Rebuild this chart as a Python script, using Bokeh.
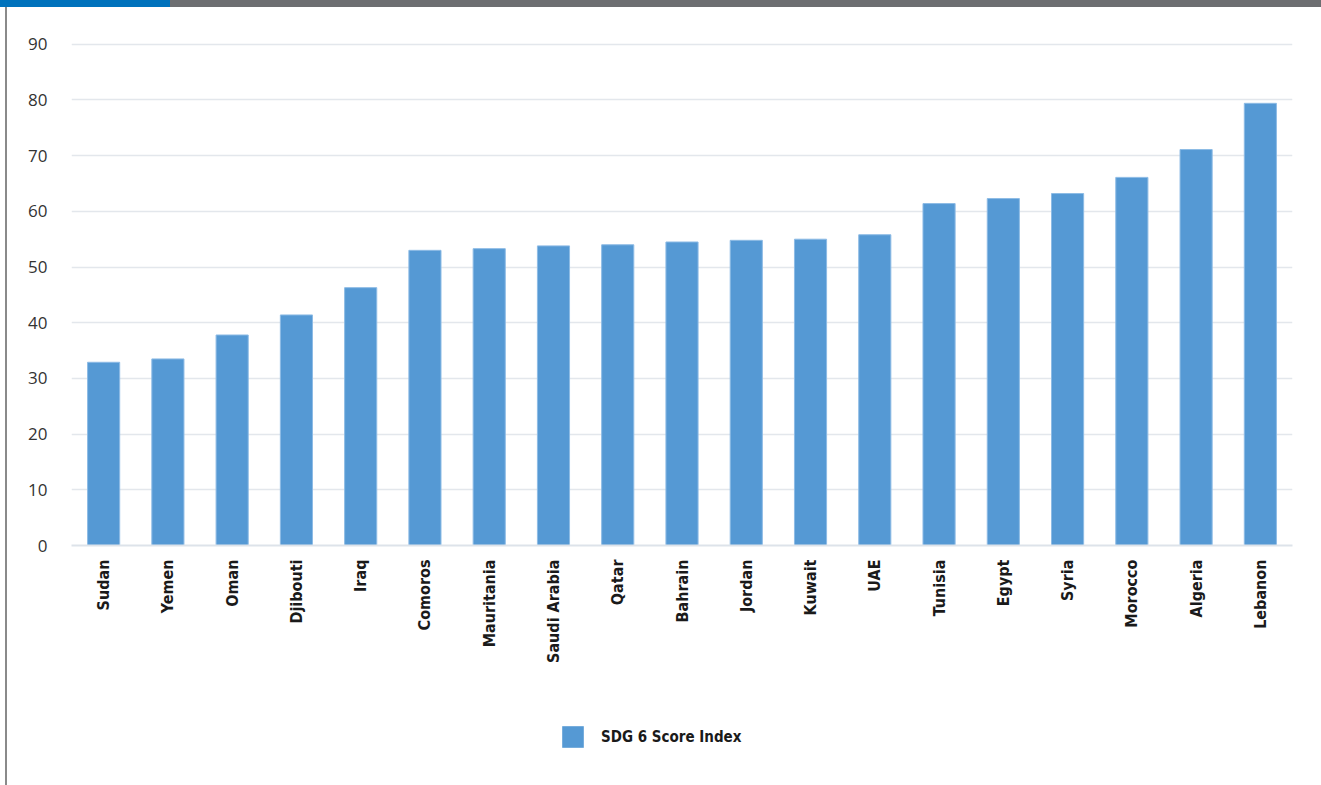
import math
from bokeh.plotting import figure
from bokeh.models import ColumnDataSource, Div, Legend, LegendItem, Range1d, FixedTicker
from bokeh.layouts import column, row
from bokeh.embed import file_html
from bokeh.resources import INLINE

countries = ["Sudan", "Yemen", "Oman", "Djibouti", "Iraq", "Comoros", "Mauritania",
             "Saudi Arabia", "Qatar", "Bahrain", "Jordan", "Kuwait", "UAE", "Tunisia",
             "Egypt", "Syria", "Morocco", "Algeria", "Lebanon"]
scores = [32.9, 33.5, 37.8, 41.4, 46.3, 53.0, 53.3, 53.8, 54.0, 54.5, 54.8, 55.0, 55.8,
          61.4, 62.3, 63.2, 66.1, 71.1, 79.4]
y_ticks = [0, 10, 20, 30, 40, 50, 60, 70, 80, 90]
series_name = "SDG 6 Score Index"

BAR_FILL = "#5599d4"
BAR_LINE = "#8dbbe5"
LABEL_FONT = "DejaVu Sans Condensed"

src = ColumnDataSource(dict(x=countries, top=scores))

W, H = 1321, 785
top_h = 7
left_w = 7
main_h = 673
leg_h = H - top_h - main_h

p = figure(x_range=countries, y_range=Range1d(0, 90.5), width=W - left_w, height=main_h,
           output_backend="svg", toolbar_location=None,
           min_border_left=64, min_border_right=29, min_border_top=34, min_border_bottom=135)
p.outline_line_color = None
p.background_fill_color = "white"
p.border_fill_color = "white"

p.vbar(x="x", top="top", width=0.5, source=src, fill_color=BAR_FILL,
       line_color=BAR_LINE, line_width=1)

p.yaxis.ticker = FixedTicker(ticks=y_ticks)
p.yaxis.axis_line_color = None
p.yaxis.major_tick_line_color = None
p.yaxis.minor_tick_line_color = None
p.yaxis.major_label_text_font = "Open Sans"
p.yaxis.major_label_text_font_size = "17px"
p.yaxis.major_label_text_color = "#333333"
p.yaxis.major_label_standoff = 18

p.xaxis.axis_line_color = "#dde3ea"
p.xaxis.axis_line_width = 2
p.xaxis.major_tick_line_color = None
p.xaxis.minor_tick_line_color = None
p.xaxis.major_label_orientation = math.pi / 2
p.xaxis.major_label_text_font = LABEL_FONT
p.xaxis.major_label_text_font_style = "bold"
p.xaxis.major_label_text_font_size = "16px"
p.xaxis.major_label_text_color = "#1a1a1a"
p.xaxis.major_label_standoff = 8

p.xgrid.grid_line_color = None
p.ygrid.grid_line_color = "#e3e7ec"
p.ygrid.grid_line_width = 1.5

# legend strip: same series placed out of view, only its legend entry is visible
lf = figure(width=W - left_w, height=leg_h, output_backend="svg", toolbar_location=None,
            x_range=countries, y_range=Range1d(1000, 1001),
            x_axis_location=None, y_axis_location=None,
            min_border=0, min_border_left=0, min_border_right=0,
            min_border_top=0, min_border_bottom=0)
lf.grid.visible = False
lf.outline_line_color = None
lf.border_fill_color = "white"
lf.background_fill_color = "white"
lr = lf.vbar(x="x", top="top", width=0.5, source=src,
             fill_color=BAR_FILL, line_color=None)
legend = Legend(items=[LegendItem(label=series_name, renderers=[lr], index=0)],
                orientation="horizontal", location=(488, 35),
                label_text_font=LABEL_FONT, label_text_font_style="bold",
                label_text_font_size="15px", label_text_color="#1a1a1a",
                glyph_width=27, glyph_height=27, label_height=27,
                border_line_color=None, background_fill_alpha=0,
                margin=0, padding=0, label_standoff=15)
lf.add_layout(legend, "center")

topbar = Div(text="", width=W, height=top_h, margin=0,
             styles={"background": "linear-gradient(to right, #0072bc 0px, #0072bc 170px, #6d6e71 170px, #6d6e71 100%)"})
leftline = Div(text="", width=left_w, height=H - top_h, margin=0,
               styles={"background": "linear-gradient(to right, #ffffff 0px, #ffffff 5px, #8a8a8a 5px, #8a8a8a 7px)"})
layout = column(topbar, row(leftline, column(p, lf, margin=0), margin=0), margin=0)

open("out.html", "w").write(file_html(layout, INLINE))
